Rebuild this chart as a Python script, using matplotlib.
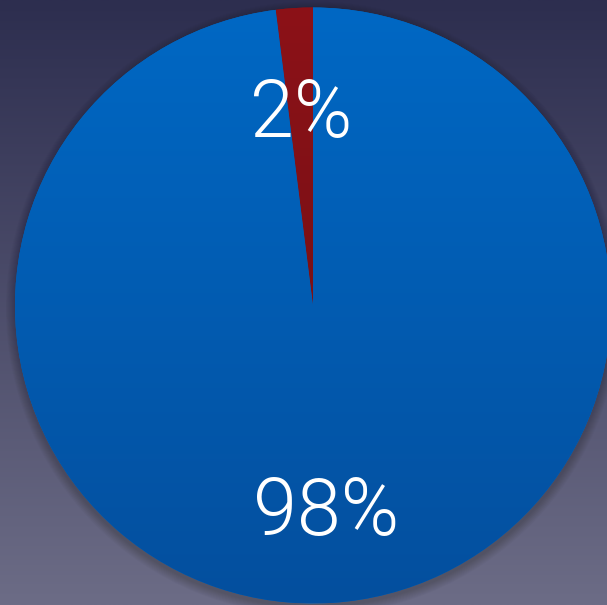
import numpy as np
import matplotlib
matplotlib.use('Agg')
import matplotlib.pyplot as plt
from matplotlib.colors import LinearSegmentedColormap

# slice values, going counter-clockwise from 12 o'clock
shares = [2, 98]
labels = ['2%', '98%']
slice_tops = ['#8c1218', '#0068c4']
slice_bottoms = ['#6a0e12', '#044f9e']
label_radius = [0.64, 0.70]

bg_top = '#2d2e4f'
bg_bottom = '#6c6c86'

W, H = 607, 605
cx, cy, R = 313, 305.5, 298

fig = plt.figure(figsize=(W / 100, H / 100), dpi=100)
ax = fig.add_axes([0, 0, 1, 1])
ax.set_xlim(-cx, W - cx)
ax.set_ylim(-(H - cy), cy)
ax.axis('off')

# background gradient
grad = np.linspace(0, 1, 256).reshape(-1, 1)
bg_cmap = LinearSegmentedColormap.from_list('bg', [bg_top, bg_bottom])
ax.imshow(grad, cmap=bg_cmap, aspect='auto', extent=(-cx, W - cx, -(H - cy), cy),
          origin='upper', zorder=0)

# soft shadow round the pie
for k in range(10):
    ax.add_patch(plt.Circle((0, -3), R + 1 + k * 0.9, color='black',
                            alpha=0.02, lw=0, zorder=1))

wedges, texts = ax.pie(shares, startangle=90, counterclock=True, radius=R,
                       center=(0, 0), colors=slice_tops,
                       wedgeprops=dict(linewidth=0))
ax.set_xlim(-cx, W - cx)
ax.set_ylim(-(H - cy), cy)
ax.set_aspect('equal')

# vertical gradient inside each slice
for w, top, bot in zip(wedges, slice_tops, slice_bottoms):
    w.set_zorder(2)
    cmap = LinearSegmentedColormap.from_list('s', [top, bot])
    im = ax.imshow(grad, cmap=cmap, aspect='auto', extent=(-R, R, -R, R),
                   origin='upper', zorder=3)
    im.set_clip_path(w)

# percentage labels
for w, lab, rr in zip(wedges, labels, label_radius):
    mid = np.deg2rad((w.theta1 + w.theta2) / 2)
    ax.text(rr * R * np.cos(mid), rr * R * np.sin(mid), lab, color='white',
            fontsize=57, family='Roboto', fontweight=300,
            ha='center', va='center', zorder=5)

fig.savefig('out.png', dpi=100)
